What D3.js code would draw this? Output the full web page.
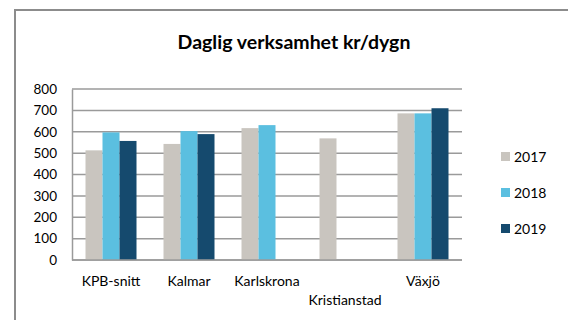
<!DOCTYPE html>
<html>
<head>
<meta charset="utf-8">
<script src="https://cdn.jsdelivr.net/npm/d3@7/dist/d3.min.js"></script>
<style>
  html, body { margin: 0; padding: 0; background: #fff; }
  svg { display: block; font-family: Lato, "Open Sans", sans-serif; }
</style>
</head>
<body>
<svg id="chart" width="568" height="320"></svg>
<script>
// Daily operations cost per day (kr/dygn) by organisation and year
const categories = ["KPB-snitt", "Kalmar", "Karlskrona", "Kristianstad", "Växjö"];
const years = ["2017", "2018", "2019"];
const values2017 = [513, 543, 617, 569, 686];
const values2018 = [597, 603, 631, null, 686];
const values2019 = [557, 589, null, null, 710];
const yTicks = [0, 100, 200, 300, 400, 500, 600, 700, 800];
const colors = ["#c9c5bf", "#5bbfe0", "#154a6e"];

const series = [values2017, values2018, values2019];

const svg = d3.select("#chart");

// outer frame
svg.append("path")
  .attr("d", "M15,320 V10 H568")
  .attr("fill", "none")
  .attr("stroke", "#8c8c8c")
  .attr("stroke-width", 2);

// title
svg.append("text")
  .attr("x", 294)
  .attr("y", 49)
  .attr("text-anchor", "middle")
  .attr("font-weight", "bold")
  .attr("font-size", 19.5)
  .attr("fill", "#000")
  .text("Daglig verksamhet kr/dygn");

const plot = { left: 72, right: 462, top: 89, bottom: 260 };

const x0 = d3.scaleBand()
  .domain(categories)
  .range([plot.left, plot.right])
  .paddingInner(27 / 78)
  .paddingOuter(13.5 / 78);

const x1 = d3.scaleBand()
  .domain(years)
  .range([0, x0.bandwidth()]);

const y = d3.scaleLinear()
  .domain([0, 800])
  .range([plot.bottom, plot.top]);

// gridlines
svg.append("g")
  .selectAll("line")
  .data(yTicks)
  .join("line")
  .attr("x1", plot.left)
  .attr("x2", plot.right)
  .attr("y1", d => y(d))
  .attr("y2", d => y(d))
  .attr("stroke", "#9a9a9a")
  .attr("stroke-width", 1.5);

// y axis
const yAxis = svg.append("g")
  .attr("transform", `translate(${plot.left},0)`)
  .call(d3.axisLeft(y).tickValues(yTicks).tickSize(0).tickPadding(15));
yAxis.select(".domain").attr("stroke", "#9a9a9a").attr("stroke-width", 1.5);
yAxis.selectAll("text")
  .attr("font-family", "Lato, 'Open Sans', sans-serif")
  .attr("font-size", 13.5)
  .attr("fill", "#000");

// bars
const groups = svg.append("g")
  .selectAll("g")
  .data(categories)
  .join("g")
  .attr("transform", d => `translate(${x0(d)},0)`);

groups.selectAll("rect")
  .data((d, i) => years.map((yr, j) => ({ yr, v: series[j][i], c: colors[j] })).filter(e => e.v != null))
  .join("rect")
  .attr("x", d => x1(d.yr))
  .attr("width", x1.bandwidth())
  .attr("y", d => y(d.v))
  .attr("height", d => y(0) - y(d.v))
  .attr("fill", d => d.c);

// baseline redrawn over bars
svg.append("line")
  .attr("x1", plot.left)
  .attr("x2", plot.right)
  .attr("y1", y(0))
  .attr("y2", y(0))
  .attr("stroke", "#9a9a9a")
  .attr("stroke-width", 1.5);

// category labels (staggered like the source axis)
const xAxis = svg.append("g")
  .attr("transform", `translate(0,${plot.bottom})`)
  .call(d3.axisBottom(x0).tickSize(0).tickPadding(0));
xAxis.select(".domain").remove();
xAxis.selectAll("text")
  .attr("font-family", "Lato, 'Open Sans', sans-serif")
  .attr("font-size", 14)
  .attr("fill", "#000")
  .attr("dy", null)
  .attr("y", (d, i) => i === 3 ? 45 : 26);

// legend
const legend = svg.append("g")
  .selectAll("g")
  .data(years)
  .join("g")
  .attr("transform", (d, i) => `translate(501,${152 + i * 36})`);
legend.append("rect")
  .attr("width", 9)
  .attr("height", 9)
  .attr("fill", (d, i) => colors[i]);
legend.append("text")
  .attr("x", 13)
  .attr("y", 10)
  .attr("font-size", 14)
  .attr("fill", "#000")
  .text(d => d);
</script>
</body>
</html>
